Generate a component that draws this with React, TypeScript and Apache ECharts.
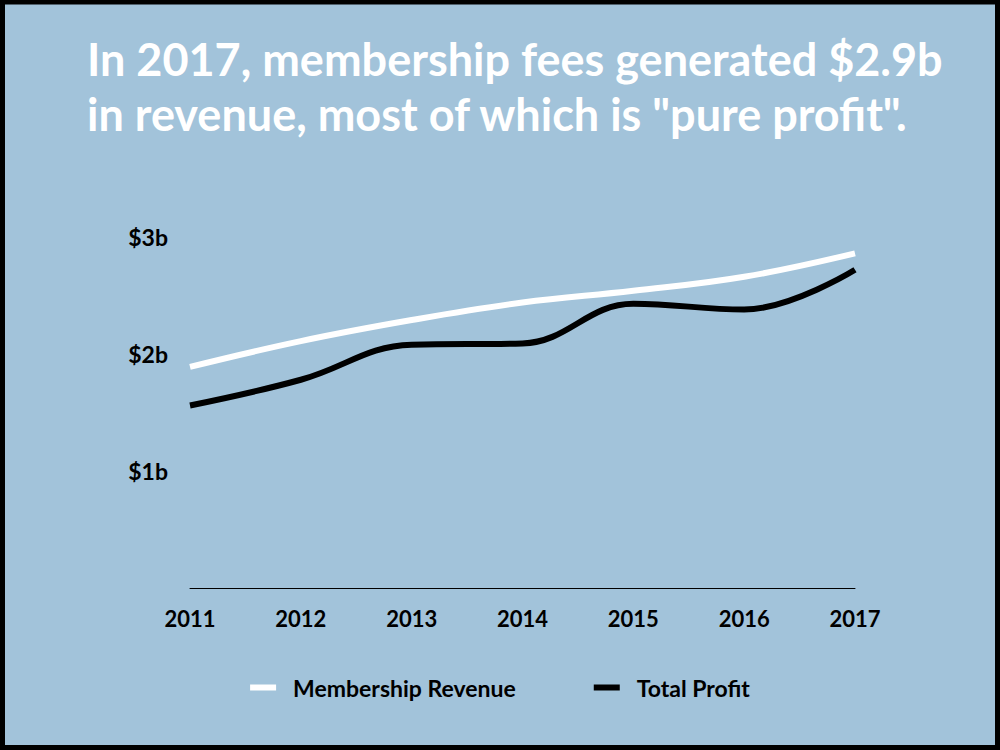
import React, { useEffect, useRef } from "react";
import * as echarts from "echarts";

const years = ["2011", "2012", "2013", "2014", "2015", "2016", "2017"];
const membershipRevenue = [1.89, 2.11, 2.29, 2.44, 2.54, 2.66, 2.86];
const totalProfit = [1.56, 1.78, 2.08, 2.09, 2.43, 2.38, 2.72];
const yTicks = [0, 1, 2, 3];
const titleLines = [
  "In 2017, membership fees generated $2.9b",
  "in revenue, most of which is \"pure profit\".",
];

const FONT = "Lato, 'Open Sans', sans-serif";

export default function App() {
  const ref = useRef<HTMLDivElement>(null);
  useEffect(() => {
    document.body.style.margin = "0";
    const chart = echarts.init(ref.current!, null, { renderer: "svg" });
    chart.setOption({
      animation: false,
      backgroundColor: "#a2c3da",
      graphic: [
        {
          type: "rect",
          shape: { x: 2.5, y: 2, width: 995, height: 745.5 },
          style: { fill: "none", stroke: "#000", lineWidth: 5 },
          z: 100,
        },
        {
          type: "text",
          left: 87,
          top: 31,
          style: {
            text: titleLines.join("\n"),
            fill: "#ffffff",
            font: `bold 45px ${FONT}`,
            lineHeight: 55,
          },
        },
      ],
      legend: {
        bottom: 46,
        left: "center",
        icon: "rect",
        itemWidth: 26,
        itemHeight: 6,
        itemGap: 78,
        textStyle: { color: "#000", fontSize: 23, fontWeight: "bold", fontFamily: FONT, padding: [0, 0, 0, 12] },
        data: ["Membership Revenue", "Total Profit"],
      },
      grid: { left: 190, right: 145, top: 237, bottom: 162 },
      xAxis: {
        type: "category",
        data: years,
        boundaryGap: false,
        axisLine: { lineStyle: { color: "#000", width: 1 } },
        axisTick: { show: false },
        axisLabel: { color: "#000", fontSize: 22, fontWeight: "bold", fontFamily: FONT, margin: 19 },
      },
      yAxis: {
        type: "value",
        min: yTicks[0],
        max: yTicks[yTicks.length - 1],
        interval: 1,
        splitLine: { show: false },
        axisLine: { show: false },
        axisTick: { show: false },
        axisLabel: {
          color: "#000",
          fontSize: 23,
          fontWeight: "bold",
          fontFamily: FONT,
          margin: 22,
          formatter: (v: number) => (v === 0 ? "" : `$${v}b`),
        },
      },
      series: [
        {
          name: "Membership Revenue",
          type: "line",
          data: membershipRevenue,
          smooth: 0.4,
          showSymbol: false,
          color: "#ffffff",
          lineStyle: { width: 6, color: "#ffffff" },
        },
        {
          name: "Total Profit",
          type: "line",
          data: totalProfit,
          smooth: 0.4,
          showSymbol: false,
          color: "#000000",
          lineStyle: { width: 6, color: "#000000" },
        },
      ],
    });
    return () => chart.dispose();
  }, []);
  return <div ref={ref} style={{ width: 1000, height: 750, position: "absolute", left: 0, top: 0 }} />;
}
